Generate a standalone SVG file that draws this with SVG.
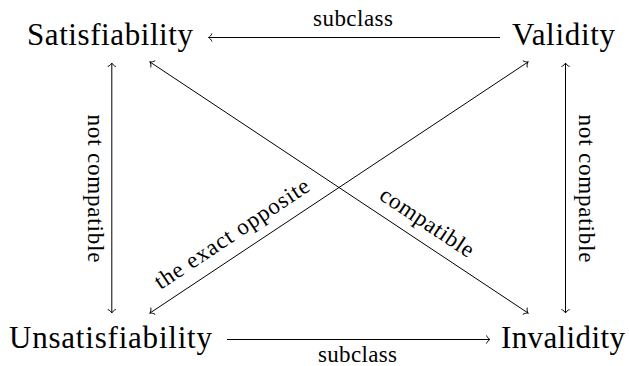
<svg xmlns="http://www.w3.org/2000/svg" width="629" height="366" viewBox="0 0 629 366">
  <style>
    .main { font-family: "Liberation Serif", "Times New Roman", serif; font-size: 31px; fill: #000; }
    .lbl { font-family: "Liberation Serif", "Times New Roman", serif; font-size: 23px; text-anchor: middle; fill: #000; }
    .edge { fill: none; stroke: #000; stroke-width: 1; }
  </style>
  <defs>
    <marker id="to" markerUnits="userSpaceOnUse" orient="auto-start-reverse" overflow="visible" markerWidth="1" markerHeight="1" refX="0" refY="0">
      <path d="M-3.4,-3.7 C-3.18,-2.3 -0.68,-0.23 0,0 C-0.68,0.23 -3.18,2.3 -3.4,3.7" fill="none" stroke="#000" stroke-width="0.95" stroke-linecap="round"/>
    </marker>
  </defs>

  <rect width="629" height="366" fill="#fff"/>

  <g id="node-satisfiability">
    <text class="main" x="27" y="45" textLength="166">Satisfiability</text>
  </g>
  <g id="node-validity">
    <text class="main" x="512" y="45" textLength="103">Validity</text>
  </g>
  <g id="node-unsatisfiability">
    <text class="main" x="9" y="348" textLength="203">Unsatisfiability</text>
  </g>
  <g id="node-invalidity">
    <text class="main" x="501" y="348" textLength="124">Invalidity</text>
  </g>

  <g id="connectors">
    <path class="edge" d="M500,37.5 L208.5,37.5" marker-end="url(#to)"/>
    <path class="edge" d="M227,339.5 L490,339.5" marker-end="url(#to)"/>
    <path class="edge" d="M111.8,63 L111.8,313" marker-start="url(#to)" marker-end="url(#to)"/>
    <path class="edge" d="M565.5,63 L565.5,313" marker-start="url(#to)" marker-end="url(#to)"/>
    <path class="edge" d="M150,62 L528,313" marker-start="url(#to)" marker-end="url(#to)"/>
    <path class="edge" d="M150,313 L528,62" marker-start="url(#to)" marker-end="url(#to)"/>

    <text class="lbl" x="353" y="26" textLength="80">subclass</text>
    <text class="lbl" x="357.5" y="361.5" textLength="79">subclass</text>
    <text class="lbl" transform="translate(88,188.5) rotate(90)" textLength="148">not compatible</text>
    <text class="lbl" transform="translate(579,188.5) rotate(90)" textLength="148">not compatible</text>
    <text class="lbl" transform="translate(236,240) rotate(-33.6)" textLength="181">the exact opposite</text>
    <text class="lbl" transform="translate(423,228.3) rotate(33.6)" textLength="108">compatible</text>
  </g>
</svg>
